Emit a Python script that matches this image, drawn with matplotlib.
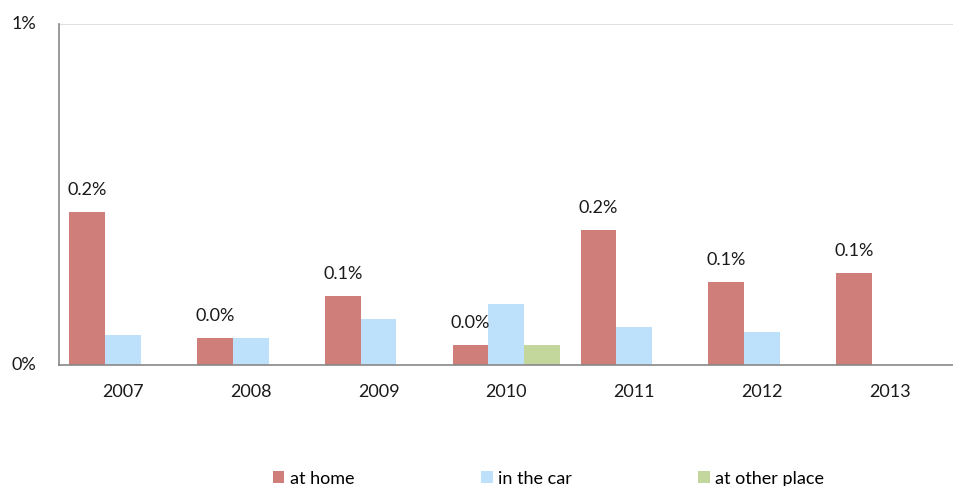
import matplotlib
matplotlib.use('Agg')
import matplotlib.pyplot as plt
import numpy as np

plt.rcParams['font.family'] = ['Lato', 'DejaVu Sans']

years = ['2007', '2008', '2009', '2010', '2011', '2012', '2013']
at_home = [0.224, 0.040, 0.101, 0.029, 0.198, 0.122, 0.135]
in_car = [0.044, 0.040, 0.067, 0.089, 0.056, 0.048, 0.0]
other_place = [0.0, 0.0, 0.0, 0.029, 0.0, 0.0, 0.0]
home_labels = ['0.2%', '0.0%', '0.1%', '0.0%', '0.2%', '0.1%', '0.1%']
y_ticks = [0.0, 0.5]
y_tick_labels = ['0%', '1%']

c_home = '#D07E7A'
c_car = '#BDE1FB'
c_other = '#C3D69B'

fig = plt.figure(figsize=(9.54, 4.86), dpi=100)
ax = fig.add_axes([0.0618, 0.249, 0.938, 0.7015])

x = np.arange(len(years))
w = 0.28
b1 = ax.bar(x - w, at_home, w, color=c_home, label='at home')
ax.bar(x, in_car, w, color=c_car, label='in the car')
ax.bar(x + w, other_place, w, color=c_other, label='at other place')

for rect, lab in zip(b1, home_labels):
    ax.annotate(lab, (rect.get_x() + rect.get_width() / 2, rect.get_height()),
                xytext=(0, 10), textcoords='offset points',
                ha='center', va='bottom', fontsize=13, color='#1a1a1a')

ax.set_xlim(-0.5, len(years) - 0.5)
ax.set_ylim(0, 0.5)
ax.set_yticks(y_ticks)
ax.set_yticklabels(y_tick_labels)
ax.set_xticks(x)
ax.set_xticklabels(years)
ax.tick_params(axis='both', length=0, labelsize=13, colors='#1a1a1a')
ax.tick_params(axis='x', pad=14)
ax.tick_params(axis='y', pad=16)
for lbl in ax.get_yticklabels():
    lbl.set_verticalalignment('center')

ax.axhline(0.5, color='#D9D9D9', lw=1.2, zorder=0)
ax.spines['top'].set_visible(False)
ax.spines['right'].set_visible(False)
ax.spines['left'].set_color('#888888')
ax.spines['bottom'].set_color('#888888')
ax.spines['left'].set_linewidth(1.2)
ax.spines['bottom'].set_linewidth(1.2)

fig.legend(loc='lower center', bbox_to_anchor=(0.575, -0.035), ncol=3, frameon=False,
           fontsize=13, handlelength=0.65, handleheight=0.65, handletextpad=0.3,
           columnspacing=7.0)

fig.savefig('out.png', dpi=100)
